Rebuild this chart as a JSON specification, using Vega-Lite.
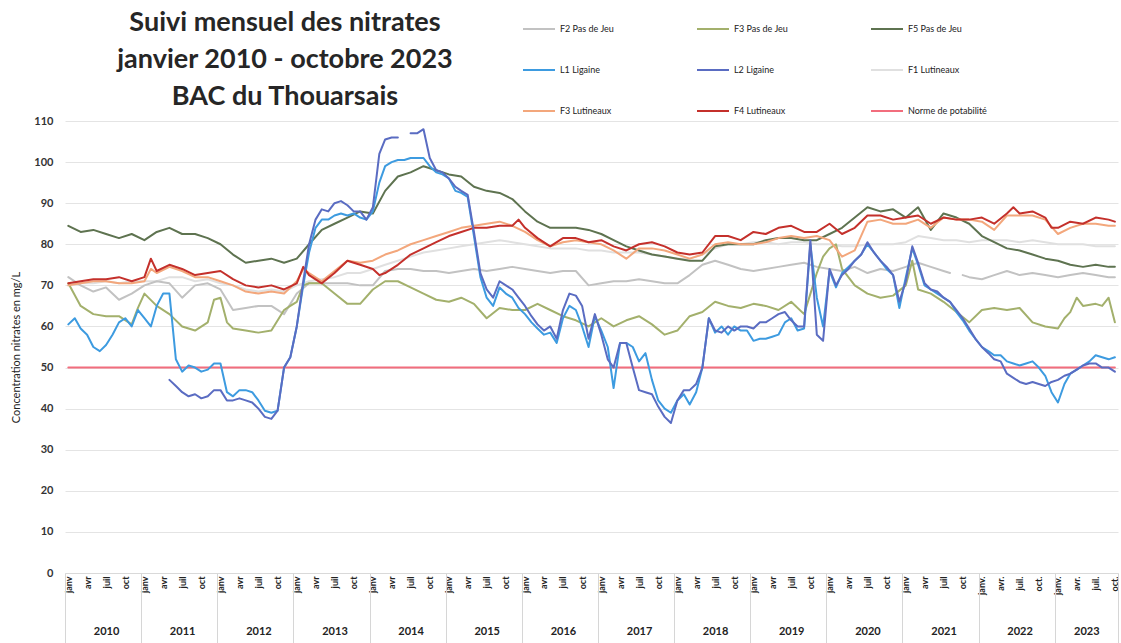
{
  "$schema": "https://vega.github.io/schema/vega-lite/v6.json",
  "autosize": {"type": "none"},
  "padding": {"left": 65, "top": 121, "right": 3, "bottom": 70},
  "width": 1053,
  "height": 452,
  "config": {"font": "Lato", "view": {"stroke": null}},
  "title": {
    "text": ["Suivi mensuel des nitrates", "janvier 2010 - octobre 2023", "BAC du Thouarsais"],
    "anchor": "start", "align": "center", "dx": 220, "offset": -99, "frame": "group",
    "fontSize": 27, "fontWeight": "bold", "font": "Lato", "color": "#262626", "lineHeight": 37
  },
  "datasets": {
    "nitrates": [
      {"d":"2010-01-01","F1L":70,"F2P":72,"F3P":70.5,"F5P":84.5,"N":50,"L1":60.5,"F3L":70,"F4L":70.5},
      {"d":"2010-02-01","L1":62},
      {"d":"2010-03-01","F1L":70.5,"F2P":70,"F3P":65,"F5P":83,"L1":59.5,"F3L":70.5,"F4L":71},
      {"d":"2010-04-01","L1":58},
      {"d":"2010-05-01","F1L":70.5,"F2P":68.5,"F3P":63,"F5P":83.5,"L1":55,"F3L":71,"F4L":71.5},
      {"d":"2010-06-01","L1":54},
      {"d":"2010-07-01","F1L":71,"F2P":69.5,"F3P":62.5,"F5P":82.5,"L1":55.5,"F3L":71,"F4L":71.5},
      {"d":"2010-08-01","L1":58},
      {"d":"2010-09-01","F1L":70.5,"F2P":66.5,"F3P":62.5,"F5P":81.5,"L1":61,"F3L":70.5,"F4L":72},
      {"d":"2010-10-01","L1":62},
      {"d":"2010-11-01","F1L":71,"F2P":68,"F3P":60.5,"F5P":82.5,"L1":60,"F3L":70.5,"F4L":71},
      {"d":"2010-12-01","L1":64,"F3P":64.5},
      {"d":"2011-01-01","F1L":71,"F2P":70,"F3P":68,"F5P":81,"L1":62,"F3L":71,"F4L":72},
      {"d":"2011-02-01","L1":60,"F3L":74,"F4L":76.5},
      {"d":"2011-03-01","F1L":71,"F2P":71,"F3P":65,"F5P":83,"L1":65,"F3L":73,"F4L":73.5},
      {"d":"2011-04-01","L1":68},
      {"d":"2011-05-01","F1L":72,"F2P":70.5,"F3P":63,"F5P":84,"L1":68,"L2":47,"F3L":74.5,"F4L":75},
      {"d":"2011-06-01","L1":52,"L2":45.5},
      {"d":"2011-07-01","F1L":72,"F2P":67,"F3P":60,"F5P":82.5,"L1":49,"L2":44,"F3L":73.5,"F4L":74},
      {"d":"2011-08-01","L1":50.5,"L2":43},
      {"d":"2011-09-01","F1L":71,"F2P":70,"F3P":59,"F5P":82.5,"L1":50,"L2":43.5,"F3L":72,"F4L":72.5},
      {"d":"2011-10-01","L1":49,"L2":42.5},
      {"d":"2011-11-01","F1L":71.5,"F2P":70.5,"F3P":61,"F5P":81.5,"L1":49.5,"L2":43,"F3L":72,"F4L":73},
      {"d":"2011-12-01","L1":51,"L2":44.5,"F3P":66.5},
      {"d":"2012-01-01","F1L":70.5,"F2P":69,"F3P":67,"F5P":80,"L1":51,"L2":44.5,"F3L":71,"F4L":73.5},
      {"d":"2012-02-01","L1":44,"L2":42,"F3P":61},
      {"d":"2012-03-01","F1L":70,"F2P":64,"F3P":59.5,"F5P":77.5,"L1":43,"L2":42,"F3L":70,"F4L":71.5},
      {"d":"2012-04-01","L1":44.5,"L2":42.5},
      {"d":"2012-05-01","F1L":69,"F2P":64.5,"F3P":59,"F5P":75.5,"L1":44.5,"L2":42,"F3L":68.5,"F4L":70},
      {"d":"2012-06-01","L1":44,"L2":41.5},
      {"d":"2012-07-01","F1L":68.5,"F2P":65,"F3P":58.5,"F5P":76,"L1":42,"L2":40,"F3L":68,"F4L":69.5},
      {"d":"2012-08-01","L1":39.5,"L2":38},
      {"d":"2012-09-01","F1L":69,"F2P":65,"F3P":59,"F5P":76.5,"L1":39,"L2":37.5,"F3L":68.5,"F4L":70},
      {"d":"2012-10-01","L1":39.5,"L2":39.5},
      {"d":"2012-11-01","F1L":68.5,"F2P":63,"F3P":64,"F5P":75.5,"L1":50,"L2":50,"F3L":68,"F4L":69},
      {"d":"2012-12-01","L1":52.5,"L2":52.5,"F3P":65},
      {"d":"2013-01-01","F1L":70,"F2P":68,"F3P":66,"F5P":76.5,"L1":60,"L2":60,"F3L":71,"F4L":70.5},
      {"d":"2013-02-01","L1":70,"L2":71,"F3L":74,"F4L":74.5,"F3P":70},
      {"d":"2013-03-01","F1L":71,"F2P":70.5,"F3P":70.5,"F5P":80,"L1":78,"L2":80,"F3L":73,"F4L":72.5},
      {"d":"2013-04-01","L1":84,"L2":86},
      {"d":"2013-05-01","F1L":71.5,"F2P":70.5,"F3P":70.5,"F5P":83.5,"L1":86,"L2":88.5,"F3L":71,"F4L":70.5},
      {"d":"2013-06-01","L1":86,"L2":88},
      {"d":"2013-07-01","F1L":72,"F2P":70.5,"F3P":68,"F5P":85,"L1":87,"L2":90,"F3L":73.5,"F4L":73},
      {"d":"2013-08-01","L1":87.5,"L2":90.5},
      {"d":"2013-09-01","F1L":73,"F2P":70.5,"F3P":65.5,"F5P":86.5,"L1":87,"L2":89.5,"F3L":76,"F4L":76},
      {"d":"2013-10-01","L1":87.5,"L2":88},
      {"d":"2013-11-01","F1L":73,"F2P":70,"F3P":65.5,"F5P":88,"L1":86.5,"L2":88,"F3L":75.5,"F4L":75},
      {"d":"2013-12-01","L1":86,"L2":86},
      {"d":"2014-01-01","F1L":74,"F2P":70,"F3P":69,"F5P":87.5,"L1":88,"L2":89,"F3L":76,"F4L":74},
      {"d":"2014-02-01","L1":95,"L2":102,"F4L":72.5},
      {"d":"2014-03-01","F1L":75,"F2P":73.5,"F3P":71,"F5P":93,"L1":99,"L2":105.5,"F3L":77.5,"F4L":73},
      {"d":"2014-04-01","L1":100,"L2":106},
      {"d":"2014-05-01","F1L":76,"F2P":74,"F3P":71,"F5P":96.5,"L1":100.5,"L2":106,"F3L":78.5,"F4L":75},
      {"d":"2014-06-01","L1":100.5,"L2":null},
      {"d":"2014-07-01","F1L":77,"F2P":74,"F3P":69.5,"F5P":97.5,"L1":101,"L2":107,"F3L":80,"F4L":77.5},
      {"d":"2014-08-01","L1":101,"L2":107},
      {"d":"2014-09-01","F1L":78,"F2P":73.5,"F3P":68,"F5P":99,"L1":101,"L2":108,"F3L":81,"F4L":79},
      {"d":"2014-10-01","L1":99,"L2":101},
      {"d":"2014-11-01","F1L":78.5,"F2P":73.5,"F3P":66.5,"F5P":98,"L1":97.5,"L2":98,"F3L":82,"F4L":80.5},
      {"d":"2014-12-01","L1":97,"L2":97.5},
      {"d":"2015-01-01","F1L":79,"F2P":73,"F3P":66,"F5P":97,"L1":96,"L2":96,"F3L":83,"F4L":82},
      {"d":"2015-02-01","L1":93,"L2":94},
      {"d":"2015-03-01","F1L":79.5,"F2P":73.5,"F3P":67,"F5P":96.5,"L1":92.5,"L2":93,"F3L":84,"F4L":83},
      {"d":"2015-04-01","L1":91.5,"L2":92},
      {"d":"2015-05-01","F1L":80,"F2P":74,"F3P":65.5,"F5P":94,"L1":82,"L2":83,"F3L":84.5,"F4L":84},
      {"d":"2015-06-01","L1":72,"L2":73},
      {"d":"2015-07-01","F1L":80.5,"F2P":73.5,"F3P":62,"F5P":93,"L1":67,"L2":69,"F3L":85,"F4L":84},
      {"d":"2015-08-01","L1":65,"L2":67},
      {"d":"2015-09-01","F1L":81,"F2P":74,"F3P":64.5,"F5P":92.5,"L1":69.5,"L2":71,"F3L":85.5,"F4L":84.5},
      {"d":"2015-10-01","L1":68,"L2":70},
      {"d":"2015-11-01","F1L":80.5,"F2P":74.5,"F3P":64,"F5P":91,"L1":67,"L2":69,"F3L":84.5,"F4L":84.5},
      {"d":"2015-12-01","L1":64.5,"L2":67,"F4L":86},
      {"d":"2016-01-01","F1L":80,"F2P":74,"F3P":64,"F5P":88,"L1":63,"L2":65,"F3L":83,"F4L":84},
      {"d":"2016-02-01","L1":61,"L2":62.5},
      {"d":"2016-03-01","F1L":79.5,"F2P":73.5,"F3P":65.5,"F5P":85.5,"L1":59.5,"L2":60.5,"F3L":81,"F4L":81.5},
      {"d":"2016-04-01","L1":58,"L2":59},
      {"d":"2016-05-01","F1L":79,"F2P":73,"F3P":64,"F5P":84,"L1":58.5,"L2":60,"F3L":79.5,"F4L":79.5},
      {"d":"2016-06-01","L1":56,"L2":57},
      {"d":"2016-07-01","F1L":79,"F2P":73.5,"F3P":62.5,"F5P":84,"L1":62,"L2":64,"F3L":80.5,"F4L":81.5},
      {"d":"2016-08-01","L1":65,"L2":68},
      {"d":"2016-09-01","F1L":79,"F2P":73.5,"F3P":61.5,"F5P":84,"L1":64,"L2":67.5,"F3L":81,"F4L":81.5},
      {"d":"2016-10-01","L1":60,"L2":65},
      {"d":"2016-11-01","F1L":78.5,"F2P":70,"F3P":60,"F5P":83.5,"L1":55,"L2":57,"F3L":80.5,"F4L":80.5},
      {"d":"2016-12-01","L1":62.5,"L2":63},
      {"d":"2017-01-01","F1L":78.5,"F2P":70.5,"F3P":62,"F5P":82.5,"L1":59,"L2":58,"F3L":80,"F4L":81},
      {"d":"2017-02-01","L1":55,"L2":52},
      {"d":"2017-03-01","F1L":78,"F2P":71,"F3P":60,"F5P":81,"L1":45,"L2":50,"F3L":78.5,"F4L":79.5},
      {"d":"2017-04-01","L1":56,"L2":56},
      {"d":"2017-05-01","F1L":78,"F2P":71,"F3P":61.5,"F5P":79.5,"L1":56,"L2":56,"F3L":76.5,"F4L":78.5},
      {"d":"2017-06-01","L1":55,"L2":50},
      {"d":"2017-07-01","F1L":78,"F2P":71.5,"F3P":62.5,"F5P":78.5,"L1":51.5,"L2":44.5,"F3L":79,"F4L":80},
      {"d":"2017-08-01","L1":53.5,"L2":44},
      {"d":"2017-09-01","F1L":77.5,"F2P":71,"F3P":60.5,"F5P":77.5,"L1":47,"L2":43.5,"F3L":79,"F4L":80.5},
      {"d":"2017-10-01","L1":42,"L2":40.5},
      {"d":"2017-11-01","F1L":77,"F2P":70.5,"F3P":58,"F5P":77,"L1":40,"L2":38,"F3L":78.5,"F4L":79.5},
      {"d":"2017-12-01","L1":39,"L2":36.5},
      {"d":"2018-01-01","F1L":76.5,"F2P":70.5,"F3P":59,"F5P":76.5,"L1":42,"L2":42,"F3L":77.5,"F4L":78},
      {"d":"2018-02-01","L1":43.5,"L2":44.5},
      {"d":"2018-03-01","F1L":76.5,"F2P":72.5,"F3P":62.5,"F5P":76,"L1":41,"L2":44.5,"F3L":76.5,"F4L":77.5},
      {"d":"2018-04-01","L1":44,"L2":46},
      {"d":"2018-05-01","F1L":77.5,"F2P":75,"F3P":63.5,"F5P":76,"L1":50,"L2":50,"F3L":77.5,"F4L":78},
      {"d":"2018-06-01","L1":62,"L2":62},
      {"d":"2018-07-01","F1L":79,"F2P":76,"F3P":66,"F5P":79.5,"L1":58.5,"L2":59,"F3L":80,"F4L":82},
      {"d":"2018-08-01","L1":60,"L2":58.5},
      {"d":"2018-09-01","F1L":80,"F2P":75,"F3P":65,"F5P":80,"L1":58,"L2":60,"F3L":80.5,"F4L":82},
      {"d":"2018-10-01","L1":60,"L2":59},
      {"d":"2018-11-01","F1L":80,"F2P":74,"F3P":64.5,"F5P":80,"L1":59,"L2":60,"F3L":80,"F4L":81},
      {"d":"2018-12-01","L1":59,"L2":60},
      {"d":"2019-01-01","F1L":80.5,"F2P":73.5,"F3P":65.5,"F5P":80,"L1":56.5,"L2":59.5,"F3L":80,"F4L":83},
      {"d":"2019-02-01","L1":57,"L2":61},
      {"d":"2019-03-01","F1L":80.5,"F2P":74,"F3P":65,"F5P":81,"L1":57,"L2":61,"F3L":80.5,"F4L":82.5},
      {"d":"2019-04-01","L1":57.5,"L2":62},
      {"d":"2019-05-01","F1L":80,"F2P":74.5,"F3P":64,"F5P":81.5,"L1":58,"L2":63,"F3L":81.5,"F4L":84},
      {"d":"2019-06-01","L1":61,"L2":63.5},
      {"d":"2019-07-01","F1L":80.5,"F2P":75,"F3P":66,"F5P":81.5,"L1":62,"L2":61.5,"F3L":82,"F4L":84.5},
      {"d":"2019-08-01","L1":59,"L2":60},
      {"d":"2019-09-01","F1L":80.5,"F2P":75.5,"F3P":63,"F5P":81,"L1":59.5,"L2":60,"F3L":81.5,"F4L":83},
      {"d":"2019-10-01","L1":80,"L2":81},
      {"d":"2019-11-01","F1L":80,"F2P":74.5,"F3P":73,"F5P":81,"L1":67,"L2":58,"F3L":82,"F4L":83},
      {"d":"2019-12-01","L1":60,"L2":56.5,"F3P":77},
      {"d":"2020-01-01","F1L":80,"F2P":74,"F3P":79,"F5P":82.5,"L1":73.5,"L2":74,"F3L":81,"F4L":85},
      {"d":"2020-02-01","L1":69.5,"L2":70,"F3P":80},
      {"d":"2020-03-01","F1L":79.5,"F2P":73.5,"F3P":74,"F5P":84,"L1":73,"L2":72.5,"F3L":77,"F4L":82.5},
      {"d":"2020-04-01","L1":74.5,"L2":74},
      {"d":"2020-05-01","F1L":79.5,"F2P":74.5,"F3P":70,"F5P":86.5,"L1":76,"L2":76,"F3L":78.5,"F4L":84},
      {"d":"2020-06-01","L1":77.5,"L2":77.5},
      {"d":"2020-07-01","F1L":80,"F2P":73,"F3P":68,"F5P":89,"L1":80,"L2":80.5,"F3L":85.5,"F4L":87},
      {"d":"2020-08-01","L1":78,"L2":78},
      {"d":"2020-09-01","F1L":80,"F2P":74,"F3P":67,"F5P":88,"L1":76,"L2":76,"F3L":86,"F4L":87},
      {"d":"2020-10-01","L1":74,"L2":74.5},
      {"d":"2020-11-01","F1L":80,"F2P":73.5,"F3P":67.5,"F5P":88.5,"L1":72.5,"L2":72.5,"F3L":85,"F4L":86},
      {"d":"2020-12-01","L1":64.5,"L2":66},
      {"d":"2021-01-01","F1L":80.5,"F2P":74.5,"F3P":70,"F5P":86.5,"L1":72,"L2":71,"F3L":85,"F4L":86.5},
      {"d":"2021-02-01","L1":79,"L2":79.5,"F3P":76},
      {"d":"2021-03-01","F1L":82,"F2P":75.5,"F3P":69,"F5P":89,"L1":75,"L2":75.5,"F3L":86,"F4L":87},
      {"d":"2021-04-01","L1":70,"L2":70.5},
      {"d":"2021-05-01","F1L":81.5,"F2P":74.5,"F3P":68,"F5P":83.5,"L1":69,"L2":69,"F3L":84,"F4L":85},
      {"d":"2021-06-01","L1":68,"L2":68.5},
      {"d":"2021-07-01","F1L":81,"F2P":73.5,"F3P":66,"F5P":87.5,"L1":67,"L2":67,"F3L":86.5,"F4L":86.5},
      {"d":"2021-08-01","L1":66,"L2":66,"F2P":73},
      {"d":"2021-09-01","F1L":81,"F2P":null,"F3P":63.5,"F5P":86.5,"L1":63.5,"L2":64,"F3L":86,"F4L":86},
      {"d":"2021-10-01","L1":61.5,"L2":62,"F2P":72.5},
      {"d":"2021-11-01","F1L":80.5,"F2P":72,"F3P":61,"F5P":85,"L1":59,"L2":59.5,"F3L":86,"F4L":86},
      {"d":"2021-12-01","L1":57,"L2":57},
      {"d":"2022-01-01","F1L":81,"F2P":71.5,"F3P":64,"F5P":82,"L1":55,"L2":55,"F3L":85.5,"F4L":86.5},
      {"d":"2022-02-01","L1":54,"L2":53.5},
      {"d":"2022-03-01","F1L":81,"F2P":72.5,"F3P":64.5,"F5P":80.5,"L1":53,"L2":52,"F3L":83.5,"F4L":85},
      {"d":"2022-04-01","L1":53,"L2":51.5},
      {"d":"2022-05-01","F1L":81,"F2P":73.5,"F3P":64,"F5P":79,"L1":51.5,"L2":48.5,"F3L":87,"F4L":87.5},
      {"d":"2022-06-01","L1":51,"L2":47.5,"F4L":89},
      {"d":"2022-07-01","F1L":80.5,"F2P":72.5,"F3P":64.5,"F5P":78.5,"L1":50.5,"L2":46.5,"F3L":87,"F4L":87.5},
      {"d":"2022-08-01","L1":51,"L2":46},
      {"d":"2022-09-01","F1L":81,"F2P":73,"F3P":61,"F5P":77.5,"L1":51.5,"L2":46.5,"F3L":87,"F4L":88},
      {"d":"2022-10-01","L1":50,"L2":46},
      {"d":"2022-11-01","F1L":80.5,"F2P":72.5,"F3P":60,"F5P":76.5,"L1":48,"L2":45.5,"F3L":86,"F4L":86.5},
      {"d":"2022-12-01","L1":44,"L2":46.5,"F4L":84},
      {"d":"2023-01-01","F1L":80,"F2P":72,"F3P":59.5,"F5P":76,"L1":41.5,"L2":47,"F3L":82.5,"F4L":84},
      {"d":"2023-02-01","L1":46,"L2":48,"F3P":62},
      {"d":"2023-03-01","F1L":80,"F2P":72.5,"F3P":63.5,"F5P":75,"L1":48.5,"L2":48.5,"F3L":84,"F4L":85.5},
      {"d":"2023-04-01","L1":49.5,"L2":49.5,"F3P":67},
      {"d":"2023-05-01","F1L":80,"F2P":73,"F3P":65,"F5P":74.5,"L1":50.5,"L2":50.5,"F3L":85,"F4L":85},
      {"d":"2023-06-01","L1":51.5,"L2":51},
      {"d":"2023-07-01","F1L":79.5,"F2P":72.5,"F3P":65.5,"F5P":75,"L1":53,"L2":51,"F3L":85,"F4L":86.5},
      {"d":"2023-08-01","L1":52.5,"L2":50,"F3P":65},
      {"d":"2023-09-01","F1L":79.5,"F2P":72,"F3P":67,"F5P":74.5,"L1":52,"L2":50,"F3L":84.5,"F4L":86},
      {"d":"2023-10-01","F1L":79.5,"F2P":72,"F3P":61,"F5P":74.5,"N":50,"L1":52.5,"L2":49,"F3L":84.5,"F4L":85.5}
    ],
    "axe": [{"d": "2010-07-01"}]
  },
  "layer": [
    {
      "data": {"name": "nitrates"},
      "transform": [
        {"fold": ["F1L", "F2P", "F3P", "F5P", "N", "L1", "L2", "F3L", "F4L"], "as": ["serie", "v"]},
        {"filter": "isDefined(datum.v)"}
      ],
      "mark": {"type": "line", "strokeJoin": "round", "strokeCap": "round"},
      "encoding": {
        "x": {
          "field": "d", "type": "temporal",
          "scale": {"type": "utc", "domain": [{"year": 2009, "month": 12, "date": 16, "utc": true}, {"year": 2023, "month": 10, "date": 16, "utc": true}]},
          "axis": {
            "orient": "bottom", "title": null, "grid": false, "ticks": false,
            "domain": true, "domainColor": "#d9d9d9",
            "tickCount": {"interval": "month", "step": 3},
            "labelExpr": "['janv','févr','mars','avr','mai','juin','juil','août','sept','oct','nov','déc'][utcmonth(datum.value)] + (utcyear(datum.value) >= 2022 ? '.' : '')",
            "labelAngle": 270, "labelFontSize": 9, "labelFontWeight": "bold", "labelColor": "#222",
            "labelPadding": 3, "labelOverlap": false, "labelFlush": false, "labelBound": false
          }
        },
        "y": {
          "field": "v", "type": "quantitative",
          "scale": {"domain": [0, 110], "nice": false},
          "axis": {
            "values": [0, 10, 20, 30, 40, 50, 60, 70, 80, 90, 100, 110],
            "title": "Concentration nitrates en mg/L", "titleFontSize": 11, "titleFontWeight": "normal",
            "titleColor": "#222", "titlePadding": 12,
            "grid": true, "gridColor": "#e4e4e4", "domain": false, "ticks": false,
            "labelFontSize": 11, "labelFontWeight": "bold", "labelColor": "#333", "labelPadding": 12
          }
        },
        "color": {
          "field": "serie", "type": "nominal",
          "scale": {
            "domain": ["F2P", "F3P", "F5P", "L1", "L2", "F1L", "F3L", "F4L", "N"],
            "range": ["#c2c2c2", "#a3b06c", "#5e7350", "#3d9be0", "#5a6cc2", "#e0e0e0", "#f3a77c", "#c4302b", "#f26d7d"]
          },
          "legend": {
            "orient": "none", "legendX": 457, "legendY": -109, "direction": "horizontal", "columns": 3, "gridAlign": "all",
            "columnPadding": 54, "rowPadding": 19, "padding": 0, "title": null,
            "symbolType": "stroke", "symbolSize": 1024, "symbolStrokeWidth": 2,
            "labelFontSize": 9, "labelColor": "#222", "labelOffset": 4,
            "labelExpr": "{'F2P':'F2 Pas de Jeu','F3P':'F3 Pas de Jeu','F5P':'F5 Pas de Jeu','L1':'L1 Ligaine','L2':'L2 Ligaine','F1L':'F1 Lutineaux','F3L':'F3 Lutineaux','F4L':'F4 Lutineaux','N':'Norme de potabilité'}[datum.label]"
          }
        },
        "strokeWidth": {
          "field": "serie", "type": "nominal",
          "scale": {
            "domain": ["F2P", "F3P", "F5P", "L1", "L2", "F1L", "F3L", "F4L", "N"],
            "range": [2, 2, 2, 2.2, 2.2, 2, 2, 2.6, 1.5]
          },
          "legend": null
        }
      }
    },
    {
      "data": {"name": "axe"},
      "mark": {"type": "rule", "opacity": 0},
      "encoding": {
        "x": {
          "field": "d", "type": "temporal",
          "axis": {
            "orient": "bottom", "title": null, "grid": false, "ticks": false, "domain": false,
            "values": [
              {"year": 2010, "month": 7, "date": 1, "utc": true}, {"year": 2011, "month": 7, "date": 1, "utc": true},
              {"year": 2012, "month": 7, "date": 1, "utc": true}, {"year": 2013, "month": 7, "date": 1, "utc": true},
              {"year": 2014, "month": 7, "date": 1, "utc": true}, {"year": 2015, "month": 7, "date": 1, "utc": true},
              {"year": 2016, "month": 7, "date": 1, "utc": true}, {"year": 2017, "month": 7, "date": 1, "utc": true},
              {"year": 2018, "month": 7, "date": 1, "utc": true}, {"year": 2019, "month": 7, "date": 1, "utc": true},
              {"year": 2020, "month": 7, "date": 1, "utc": true}, {"year": 2021, "month": 7, "date": 1, "utc": true},
              {"year": 2022, "month": 7, "date": 1, "utc": true}, {"year": 2023, "month": 5, "date": 17, "utc": true}
            ],
            "labelExpr": "utcyear(datum.value)",
            "labelAngle": 0, "labelFontSize": 11, "labelFontWeight": "bold", "labelColor": "#222",
            "labelPadding": 52, "labelOverlap": false, "labelFlush": false, "labelBound": false
          }
        }
      }
    },
    {
      "data": {"name": "axe"},
      "mark": {"type": "rule", "opacity": 0},
      "encoding": {
        "x": {
          "field": "d", "type": "temporal",
          "axis": {
            "orient": "bottom", "title": null, "grid": false, "labels": false, "domain": false,
            "ticks": true, "tickSize": 70, "tickColor": "#d6d6d6", "tickWidth": 1,
            "values": [
              {"year": 2009, "month": 12, "date": 16, "utc": true}, {"year": 2010, "month": 12, "date": 16, "utc": true},
              {"year": 2011, "month": 12, "date": 16, "utc": true}, {"year": 2012, "month": 12, "date": 16, "utc": true},
              {"year": 2013, "month": 12, "date": 16, "utc": true}, {"year": 2014, "month": 12, "date": 16, "utc": true},
              {"year": 2015, "month": 12, "date": 16, "utc": true}, {"year": 2016, "month": 12, "date": 16, "utc": true},
              {"year": 2017, "month": 12, "date": 16, "utc": true}, {"year": 2018, "month": 12, "date": 16, "utc": true},
              {"year": 2019, "month": 12, "date": 16, "utc": true}, {"year": 2020, "month": 12, "date": 16, "utc": true},
              {"year": 2021, "month": 12, "date": 16, "utc": true}, {"year": 2022, "month": 12, "date": 16, "utc": true},
              {"year": 2023, "month": 10, "date": 16, "utc": true}
            ]
          }
        }
      }
    }
  ],
  "resolve": {"axis": {"x": "independent"}}
}
